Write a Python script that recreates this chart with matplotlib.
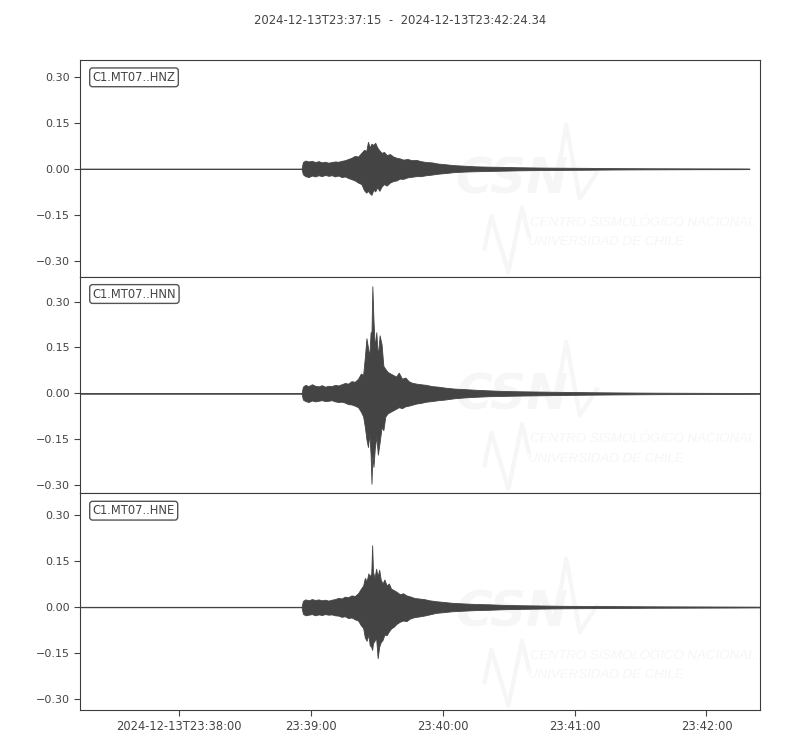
import numpy as np
import matplotlib
matplotlib.use("Agg")
import matplotlib.pyplot as plt

# trace envelopes: seconds after start, upper / lower amplitude
start = np.datetime64("2024-12-13T23:37:15.000")
end = np.datetime64("2024-12-13T23:42:24.340")
title = "2024-12-13T23:37:15  -  2024-12-13T23:42:24.34"

channels = ["C1.MT07..HNZ", "C1.MT07..HNN", "C1.MT07..HNE"]

z_t = [0, 100.8, 101.4, 102.5, 104, 105.5, 107, 108.5, 110, 111.5, 113, 114.5, 116, 117.5,
       119, 120.5, 122, 123.5, 125, 126.5, 128, 129.2, 130.2, 131.0, 131.8, 132.6, 133.5,
       134.3, 135.2, 136.2, 137.2, 138.3, 139.5, 141, 142.5, 144, 145.5, 147, 149, 151, 153,
       155, 157.5, 160, 163, 166, 170, 175, 180, 186, 193, 200, 210, 220, 232, 245, 260,
       280, 300, 304.5]
z_up = [0.0008, 0.0008, 0.022, 0.027, 0.024, 0.026, 0.022, 0.025, 0.021, 0.023, 0.020, 0.022,
        0.024, 0.023, 0.026, 0.028, 0.032, 0.036, 0.042, 0.040, 0.052, 0.062, 0.058, 0.088,
        0.070, 0.082, 0.078, 0.085, 0.070, 0.060, 0.052, 0.055, 0.045, 0.048, 0.040, 0.036,
        0.034, 0.030, 0.032, 0.028, 0.029, 0.025, 0.022, 0.021, 0.017, 0.015, 0.012, 0.010,
        0.008, 0.007, 0.006, 0.005, 0.004, 0.0035, 0.003, 0.0022, 0.0018, 0.0014, 0.0012, 0.001]
z_lo = [-0.0008, -0.0008, -0.018, -0.024, -0.027, -0.022, -0.025, -0.021, -0.024, -0.020,
        -0.023, -0.021, -0.025, -0.022, -0.027, -0.025, -0.030, -0.034, -0.038, -0.045, -0.050,
        -0.070, -0.078, -0.072, -0.080, -0.085, -0.068, -0.074, -0.060, -0.072, -0.058, -0.050,
        -0.055, -0.045, -0.040, -0.038, -0.032, -0.033, -0.028, -0.026, -0.024, -0.024, -0.021,
        -0.019, -0.016, -0.014, -0.011, -0.009, -0.008, -0.007, -0.006, -0.005, -0.004, -0.0035,
        -0.003, -0.0022, -0.0018, -0.0014, -0.0012, -0.001]

n_t = [0, 100.8, 101.4, 102.5, 104, 105.5, 107, 108.5, 110, 111.5, 113, 114.5, 116, 117.5,
       119, 120.5, 122, 123.5, 125, 126.5, 127.8, 128.8, 129.6, 130.3, 131.0, 131.6, 132.2,
       132.6, 133.0, 133.5, 134.1, 134.8, 135.5, 136.3, 137.2, 138.0, 138.9, 140, 141.2,
       142.5, 143.8, 145, 146.5, 148, 149.5, 151, 153, 155, 157.5, 160, 163, 166, 170, 175,
       180, 186, 193, 200, 210, 220, 232, 245, 260, 280, 300, 309.3]
n_up = [0.0008, 0.0008, 0.022, 0.028, 0.024, 0.030, 0.025, 0.023, 0.027, 0.022, 0.025, 0.024,
        0.028, 0.026, 0.030, 0.034, 0.032, 0.040, 0.038, 0.048, 0.065, 0.060, 0.120, 0.180,
        0.150, 0.120, 0.200, 0.200, 0.350, 0.240, 0.150, 0.200, 0.120, 0.190, 0.160, 0.090,
        0.080, 0.070, 0.065, 0.060, 0.055, 0.068, 0.048, 0.052, 0.040, 0.035, 0.032, 0.030,
        0.028, 0.024, 0.022, 0.019, 0.016, 0.014, 0.012, 0.010, 0.008, 0.007, 0.006, 0.005,
        0.004, 0.0032, 0.0025, 0.002, 0.0016, 0.0013]
n_lo = [-0.0008, -0.0008, -0.020, -0.025, -0.028, -0.023, -0.026, -0.024, -0.022, -0.025,
        -0.024, -0.022, -0.026, -0.028, -0.027, -0.030, -0.035, -0.036, -0.040, -0.045, -0.060,
        -0.075, -0.110, -0.150, -0.175, -0.130, -0.200, -0.295, -0.200, -0.240, -0.180, -0.140,
        -0.200, -0.160, -0.110, -0.120, -0.075, -0.065, -0.060, -0.055, -0.050, -0.045, -0.048,
        -0.042, -0.040, -0.037, -0.033, -0.031, -0.027, -0.025, -0.022, -0.020, -0.016, -0.013,
        -0.011, -0.009, -0.008, -0.007, -0.006, -0.005, -0.004, -0.0032, -0.0025, -0.002,
        -0.0016, -0.0013]

e_t = [0, 100.8, 101.4, 102.5, 104, 105.5, 107, 108.5, 110, 111.5, 113, 114.5, 116, 117.5,
       119, 120.5, 122, 123.5, 125, 126.5, 127.8, 128.8, 129.6, 130.4, 131.2, 131.8, 132.5,
       132.9, 133.3, 134.0, 134.7, 135.4, 136.1, 136.8, 137.6, 138.5, 139.5, 140.5, 141.5,
       142.8, 144, 145.5, 147, 148.5, 150, 152, 154, 156.5, 159, 162, 165, 169, 174, 180,
       186, 193, 200, 210, 220, 232, 245, 260, 280, 300, 309.3]
e_up = [0.0008, 0.0008, 0.020, 0.025, 0.022, 0.026, 0.023, 0.025, 0.022, 0.024, 0.021, 0.024,
        0.026, 0.030, 0.028, 0.034, 0.032, 0.038, 0.036, 0.045, 0.060, 0.070, 0.095, 0.085,
        0.110, 0.100, 0.110, 0.202, 0.115, 0.095, 0.125, 0.100, 0.122, 0.090, 0.077, 0.090,
        0.070, 0.077, 0.060, 0.055, 0.050, 0.042, 0.045, 0.038, 0.035, 0.030, 0.028, 0.026,
        0.022, 0.019, 0.017, 0.014, 0.012, 0.010, 0.009, 0.007, 0.006, 0.005, 0.004, 0.0035,
        0.003, 0.0024, 0.002, 0.0016, 0.0013]
e_lo = [-0.0008, -0.0008, -0.022, -0.027, -0.025, -0.023, -0.027, -0.024, -0.026, -0.023,
        -0.025, -0.024, -0.027, -0.028, -0.032, -0.030, -0.036, -0.034, -0.040, -0.044, -0.060,
        -0.068, -0.100, -0.110, -0.090, -0.125, -0.130, -0.140, -0.118, -0.110, -0.100, -0.167,
        -0.130, -0.115, -0.108, -0.090, -0.092, -0.080, -0.070, -0.064, -0.055, -0.048, -0.044,
        -0.046, -0.038, -0.033, -0.031, -0.028, -0.024, -0.019, -0.017, -0.014, -0.012, -0.010,
        -0.009, -0.007, -0.006, -0.005, -0.004, -0.0035, -0.003, -0.0024, -0.002, -0.0016,
        -0.0013]

traces = [(z_t, z_up, z_lo), (n_t, n_up, n_lo), (e_t, e_up, e_lo)]

yticks = [-0.30, -0.15, 0.0, 0.15, 0.30]
tick_times = ["2024-12-13T23:38:00", "2024-12-13T23:39:00", "2024-12-13T23:40:00",
              "2024-12-13T23:41:00", "2024-12-13T23:42:00"]
tick_labels = ["2024-12-13T23:38:00", "23:39:00", "23:40:00", "23:41:00", "23:42:00"]

TXT = "#444444"
LINE = "#444444"
WM = "#f6f6f6"


def to_time(secs):
    return start + (np.asarray(secs) * 1000).astype("timedelta64[ms]")


# same amplitude range on every panel, each centred on its own trace
half = 1.097 * max((max(up) - min(lo)) / 2 for _, up, lo in traces)

fig, axes = plt.subplots(3, 1, sharex=True, figsize=(8, 7.5), dpi=100)
fig.subplots_adjust(left=0.1, right=0.95, top=0.92, bottom=0.0533, hspace=0)

for ax, name, (t, up, lo) in zip(axes, channels, traces):
    # faint CSN watermark
    ax.text(0.552, 0.45, "CSN", transform=ax.transAxes, fontsize=36, fontweight="bold",
            style="italic", color=WM, va="center", ha="left", zorder=0)
    ax.plot([0.595, 0.605, 0.63, 0.65, 0.66], [0.13, 0.28, 0.02, 0.32, 0.19],
            transform=ax.transAxes, color=WM, lw=3, zorder=0)
    ax.plot([0.70, 0.715, 0.735, 0.76], [0.43, 0.70, 0.36, 0.48],
            transform=ax.transAxes, color=WM, lw=3, zorder=0)
    ax.text(0.662, 0.25, "CENTRO SISMOLÓGICO NACIONAL", transform=ax.transAxes,
            fontsize=9.5, style="italic", family="Liberation Sans", color=WM,
            va="center", ha="left", zorder=0)
    ax.text(0.659, 0.16, "UNIVERSIDAD DE CHILE", transform=ax.transAxes,
            fontsize=9.5, style="italic", family="Liberation Sans", color=WM,
            va="center", ha="left", zorder=0)

    ax.fill_between(to_time(t), lo, up, color=LINE, lw=0.6, zorder=2)

    mid = (max(up) + min(lo)) / 2
    ax.set_ylim(mid - half, mid + half)
    ax.set_yticks(yticks)
    ax.tick_params(axis="y", labelsize=8, colors=TXT, length=4, direction="out")
    for sp in ax.spines.values():
        sp.set_color("#3c3c3c")
    ax.text(0.0185, 0.95, name, transform=ax.transAxes, fontsize=8.3, color=TXT,
            va="top", ha="left",
            bbox=dict(boxstyle="round,pad=0.25", fc="white", ec="#555555", lw=1))

axes[-1].set_xlim(start, end)
axes[-1].set_xticks(np.array(tick_times, dtype="datetime64[ms]"))
axes[-1].set_xticklabels(tick_labels)
axes[-1].tick_params(axis="x", labelsize=8.3, colors=TXT, length=4, direction="out")
for ax in axes[:-1]:
    ax.tick_params(axis="x", length=0, labelbottom=False)

fig.suptitle(title, y=0.981, fontsize=8.4, color=TXT, va="top")

fig.savefig("out.png", dpi=100)
